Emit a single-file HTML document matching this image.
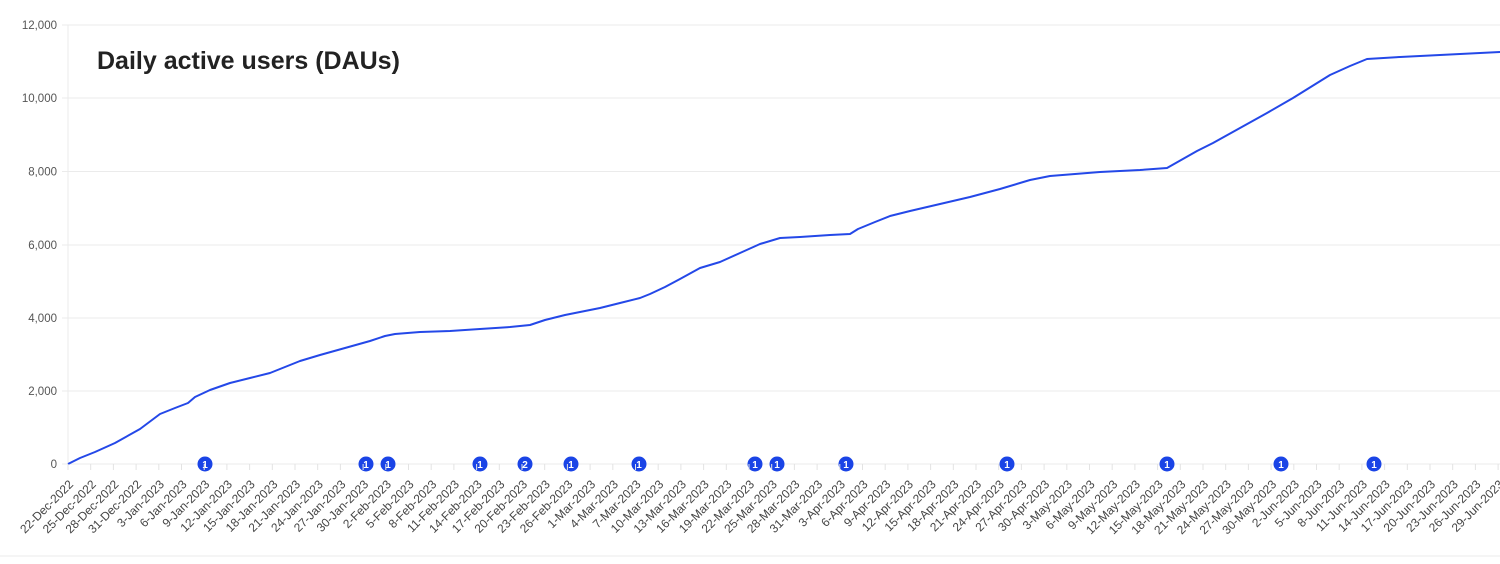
<!DOCTYPE html>
<html><head><meta charset="utf-8"><style>
html,body{margin:0;padding:0;background:#fff;}
svg{display:block;font-family:"Liberation Sans",Arial,sans-serif;}
</style></head><body>
<svg width="1500" height="564" viewBox="0 0 1500 564">
<g stroke="#ebebeb" stroke-width="1">
<line x1="62" y1="25" x2="1500" y2="25"/><line x1="62" y1="98" x2="1500" y2="98"/><line x1="62" y1="171.5" x2="1500" y2="171.5"/><line x1="62" y1="245" x2="1500" y2="245"/><line x1="62" y1="318" x2="1500" y2="318"/><line x1="62" y1="391" x2="1500" y2="391"/><line x1="62" y1="464" x2="1500" y2="464"/>
<line x1="68" y1="25" x2="68" y2="464"/>
<line x1="0" y1="556" x2="1500" y2="556"/>
</g>
<g fill="#555" font-size="11.5" text-anchor="end">
<text x="57" y="29">12,000</text><text x="57" y="102">10,000</text><text x="57" y="175.5">8,000</text><text x="57" y="249">6,000</text><text x="57" y="322">4,000</text><text x="57" y="395">2,000</text><text x="57" y="468">0</text>
</g>
<text x="97" y="69" font-size="25" font-weight="bold" fill="#222">Daily active users (DAUs)</text>
<polyline fill="none" stroke="#2448e8" stroke-width="2" stroke-linejoin="round" points="68,464 80,458 95,452 115,443 140,429 160,414 175,408 188,403 195,397 210,390 230,383 250,378 270,373 285,367 300,361 320,355 345,348 370,341 385,336 395,334 420,332 450,331 480,329 510,327 530,325 545,320 565,315 580,312 600,308 620,303 640,298 650,294 665,287 680,279 700,268 720,262 740,253 760,244 780,238 800,237 830,235 850,234 858,229 875,222 890,216 910,211 940,204 970,197 1000,189 1030,180 1050,176 1075,174 1100,172 1140,170 1167,168 1197,151 1213,143 1240,128 1267,113 1293,98 1330,75 1350,66 1367,59 1400,57 1500,52"/>
<g fill="#1a44e6">
<circle cx="205" cy="464" r="7.5"/><circle cx="366" cy="464" r="7.5"/><circle cx="388" cy="464" r="7.5"/><circle cx="480" cy="464" r="7.5"/><circle cx="525" cy="464" r="7.5"/><circle cx="571" cy="464" r="7.5"/><circle cx="639" cy="464" r="7.5"/><circle cx="755" cy="464" r="7.5"/><circle cx="777" cy="464" r="7.5"/><circle cx="846" cy="464" r="7.5"/><circle cx="1007" cy="464" r="7.5"/><circle cx="1167" cy="464" r="7.5"/><circle cx="1281" cy="464" r="7.5"/><circle cx="1374" cy="464" r="7.5"/>
</g>
<g fill="#fff" font-size="10" font-weight="bold" text-anchor="middle">
<text x="205" y="468">1</text><text x="366" y="468">1</text><text x="388" y="468">1</text><text x="480" y="468">1</text><text x="525" y="468">2</text><text x="571" y="468">1</text><text x="639" y="468">1</text><text x="755" y="468">1</text><text x="777" y="468">1</text><text x="846" y="468">1</text><text x="1007" y="468">1</text><text x="1167" y="468">1</text><text x="1281" y="468">1</text><text x="1374" y="468">1</text>
</g>
<g fill="#444" font-size="12" text-anchor="end">
<text transform="translate(74,485) rotate(-45)">22-Dec-2022</text>
<text transform="translate(96.7,485) rotate(-45)">25-Dec-2022</text>
<text transform="translate(119.4,485) rotate(-45)">28-Dec-2022</text>
<text transform="translate(142.1,485) rotate(-45)">31-Dec-2022</text>
<text transform="translate(164.8,485) rotate(-45)">3-Jan-2023</text>
<text transform="translate(187.5,485) rotate(-45)">6-Jan-2023</text>
<text transform="translate(210.2,485) rotate(-45)">9-Jan-2023</text>
<text transform="translate(232.9,485) rotate(-45)">12-Jan-2023</text>
<text transform="translate(255.6,485) rotate(-45)">15-Jan-2023</text>
<text transform="translate(278.3,485) rotate(-45)">18-Jan-2023</text>
<text transform="translate(301,485) rotate(-45)">21-Jan-2023</text>
<text transform="translate(323.7,485) rotate(-45)">24-Jan-2023</text>
<text transform="translate(346.4,485) rotate(-45)">27-Jan-2023</text>
<text transform="translate(369.1,485) rotate(-45)">30-Jan-2023</text>
<text transform="translate(391.8,485) rotate(-45)">2-Feb-2023</text>
<text transform="translate(414.5,485) rotate(-45)">5-Feb-2023</text>
<text transform="translate(437.2,485) rotate(-45)">8-Feb-2023</text>
<text transform="translate(459.9,485) rotate(-45)">11-Feb-2023</text>
<text transform="translate(482.6,485) rotate(-45)">14-Feb-2023</text>
<text transform="translate(505.3,485) rotate(-45)">17-Feb-2023</text>
<text transform="translate(528,485) rotate(-45)">20-Feb-2023</text>
<text transform="translate(550.7,485) rotate(-45)">23-Feb-2023</text>
<text transform="translate(573.4,485) rotate(-45)">26-Feb-2023</text>
<text transform="translate(596.1,485) rotate(-45)">1-Mar-2023</text>
<text transform="translate(618.8,485) rotate(-45)">4-Mar-2023</text>
<text transform="translate(641.5,485) rotate(-45)">7-Mar-2023</text>
<text transform="translate(664.2,485) rotate(-45)">10-Mar-2023</text>
<text transform="translate(686.9,485) rotate(-45)">13-Mar-2023</text>
<text transform="translate(709.6,485) rotate(-45)">16-Mar-2023</text>
<text transform="translate(732.3,485) rotate(-45)">19-Mar-2023</text>
<text transform="translate(755,485) rotate(-45)">22-Mar-2023</text>
<text transform="translate(777.7,485) rotate(-45)">25-Mar-2023</text>
<text transform="translate(800.4,485) rotate(-45)">28-Mar-2023</text>
<text transform="translate(823.1,485) rotate(-45)">31-Mar-2023</text>
<text transform="translate(845.8,485) rotate(-45)">3-Apr-2023</text>
<text transform="translate(868.5,485) rotate(-45)">6-Apr-2023</text>
<text transform="translate(891.2,485) rotate(-45)">9-Apr-2023</text>
<text transform="translate(913.9,485) rotate(-45)">12-Apr-2023</text>
<text transform="translate(936.6,485) rotate(-45)">15-Apr-2023</text>
<text transform="translate(959.3,485) rotate(-45)">18-Apr-2023</text>
<text transform="translate(982,485) rotate(-45)">21-Apr-2023</text>
<text transform="translate(1004.7,485) rotate(-45)">24-Apr-2023</text>
<text transform="translate(1027.4,485) rotate(-45)">27-Apr-2023</text>
<text transform="translate(1050.1,485) rotate(-45)">30-Apr-2023</text>
<text transform="translate(1072.8,485) rotate(-45)">3-May-2023</text>
<text transform="translate(1095.5,485) rotate(-45)">6-May-2023</text>
<text transform="translate(1118.2,485) rotate(-45)">9-May-2023</text>
<text transform="translate(1140.9,485) rotate(-45)">12-May-2023</text>
<text transform="translate(1163.6,485) rotate(-45)">15-May-2023</text>
<text transform="translate(1186.3,485) rotate(-45)">18-May-2023</text>
<text transform="translate(1209,485) rotate(-45)">21-May-2023</text>
<text transform="translate(1231.7,485) rotate(-45)">24-May-2023</text>
<text transform="translate(1254.4,485) rotate(-45)">27-May-2023</text>
<text transform="translate(1277.1,485) rotate(-45)">30-May-2023</text>
<text transform="translate(1299.8,485) rotate(-45)">2-Jun-2023</text>
<text transform="translate(1322.5,485) rotate(-45)">5-Jun-2023</text>
<text transform="translate(1345.2,485) rotate(-45)">8-Jun-2023</text>
<text transform="translate(1367.9,485) rotate(-45)">11-Jun-2023</text>
<text transform="translate(1390.6,485) rotate(-45)">14-Jun-2023</text>
<text transform="translate(1413.3,485) rotate(-45)">17-Jun-2023</text>
<text transform="translate(1436,485) rotate(-45)">20-Jun-2023</text>
<text transform="translate(1458.7,485) rotate(-45)">23-Jun-2023</text>
<text transform="translate(1481.4,485) rotate(-45)">26-Jun-2023</text>
<text transform="translate(1504.1,485) rotate(-45)">29-Jun-2023</text>
</g>
<path stroke="#e3e3e3" stroke-width="1" d="M68,464v6M90.7,464v6M113.4,464v6M136.1,464v6M158.8,464v6M181.5,464v6M204.2,464v6M226.9,464v6M249.6,464v6M272.3,464v6M295,464v6M317.7,464v6M340.4,464v6M363.1,464v6M385.8,464v6M408.5,464v6M431.2,464v6M453.9,464v6M476.6,464v6M499.3,464v6M522,464v6M544.7,464v6M567.4,464v6M590.1,464v6M612.8,464v6M635.5,464v6M658.2,464v6M680.9,464v6M703.6,464v6M726.3,464v6M749,464v6M771.7,464v6M794.4,464v6M817.1,464v6M839.8,464v6M862.5,464v6M885.2,464v6M907.9,464v6M930.6,464v6M953.3,464v6M976,464v6M998.7,464v6M1021.4,464v6M1044.1,464v6M1066.8,464v6M1089.5,464v6M1112.2,464v6M1134.9,464v6M1157.6,464v6M1180.3,464v6M1203,464v6M1225.7,464v6M1248.4,464v6M1271.1,464v6M1293.8,464v6M1316.5,464v6M1339.2,464v6M1361.9,464v6M1384.6,464v6M1407.3,464v6M1430,464v6M1452.7,464v6M1475.4,464v6M1498.1,464v6"/>
</svg>
</body></html>
